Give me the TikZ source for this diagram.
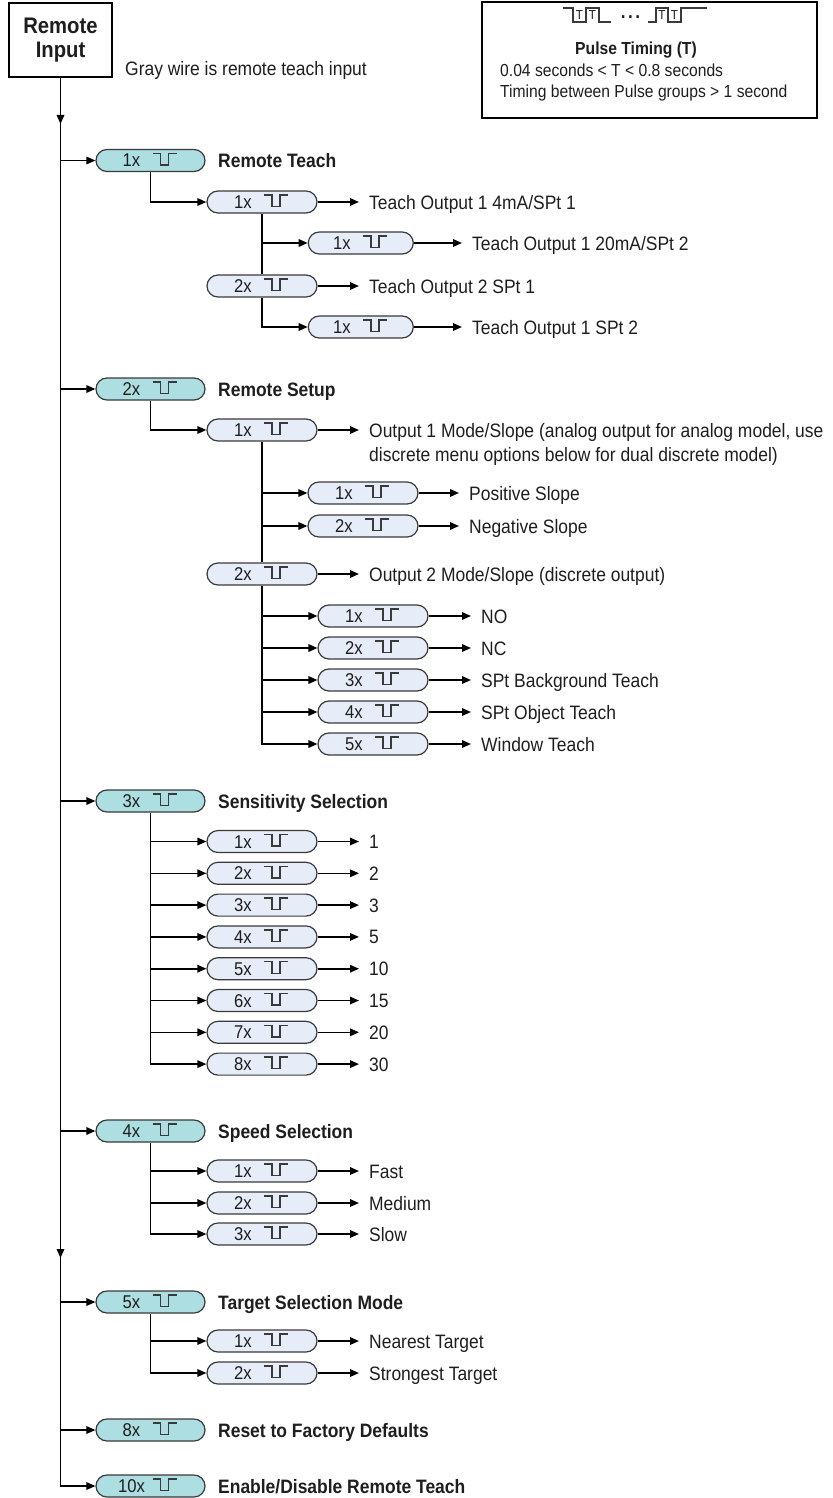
\documentclass[tikz,border=0pt]{standalone}
\usepackage{fontspec}
\setmainfont{Liberation Sans}[FakeStretch=0.9]
\usetikzlibrary{arrows.meta,shapes.misc,calc}
\definecolor{lone}{HTML}{ADDEE2}
\definecolor{ltwo}{HTML}{E6ECF8}
\definecolor{pbord}{HTML}{3A3A3A}
\definecolor{ink}{HTML}{1E1E1E}
\tikzset{
 pillbase/.style={rounded rectangle, draw=pbord, line width=1.2pt, minimum height=22pt, inner sep=0pt},
 lvone/.style={pillbase, fill=lone},
 lvtwo/.style={pillbase, fill=ltwo},
 pilltxt/.style={font=\fontsize{18.5}{22}\selectfont, text=ink, inner sep=0pt, text height=13pt, text depth=0pt},
 pulse/.style={line width=1.4pt, draw=pbord},
 conn/.style={line width=1.6pt, draw=black},
 arr/.style={conn, -{Triangle[length=9pt,width=7.5pt]}},
 oarr/.style={arr, shorten >=10pt},
 txt/.style={font=\fontsize{19.4}{24}\selectfont, text=ink, anchor=west, inner sep=0pt, text height=14pt, text depth=0pt},
 btxt/.style={txt, font=\fontsize{19.4}{24}\selectfont\bfseries},
 boxtxt/.style={font=\fontsize{17.4}{20}\selectfont, text=ink, inner sep=0pt, text height=12.4pt, text depth=0pt},
 tsmall/.style={font=\fontsize{13}{13}\selectfont, text=ink, inner sep=0pt},
}
\newcommand{\pill}[6]{%
 \node[#5, minimum width=#4pt] (#1) at (#2,#3) {};
 \node[pilltxt] (#1x) at (#2-19,#3) {#6};
 \draw[pulse, shift={(#2,#3)}] (2,-7) -- (10,-7) -- (10,4.5) -- (18,4.5) -- (18,-7) -- (26,-7);
}
\begin{document}
\begin{tikzpicture}[x=1pt,y=-1pt]
\useasboundingbox (0,0) rectangle (832,1498);

% header
\node[draw, line width=2pt, minimum width=103pt, minimum height=74pt, inner sep=0pt, align=center, text=ink,
      font=\fontsize{22.5}{24}\selectfont\bfseries] (ri) at (60.5,40) {Remote\\Input};
\node[txt] (gw) at (125,69) {Gray wire is remote teach input};

\node[draw, line width=1.4pt, minimum width=335pt, minimum height=116pt, inner sep=0pt] (pt) at (649.5,60) {};
\draw[pulse] (563,8) -- (573,8) -- (573,22) -- (586,22) -- (586,8) -- (599,8) -- (599,22) -- (611,22);
\draw[pulse] (648,22) -- (656,22) -- (656,8) -- (668,8) -- (668,22) -- (681,22) -- (681,8) -- (707,8);
\node[tsmall] (ta) at (579.5,15) {T};
\node[tsmall] (tb) at (592.5,15) {T};
\node[tsmall] (tc) at (662,15) {T};
\node[tsmall] (td) at (674.5,15) {T};
\node[inner sep=0pt, text=ink, font=\fontsize{19}{20}\selectfont\bfseries] (dots) at (630.5,17) {.\kern2.5pt.\kern2.5pt.};
\node[boxtxt, font=\fontsize{17.4}{20}\selectfont\bfseries] (pth) at (636,48) {Pulse Timing (T)};
\node[boxtxt, anchor=west] (pl1) at (500,70) {0.04 seconds < T < 0.8 seconds};
\node[boxtxt, anchor=west] (pl2) at (500,91) {Timing between Pulse groups > 1 second};

% level 1
\pill{rt}{150.5}{160.5}{109}{lvone}{1x}
\pill{su}{150.5}{389}{109}{lvone}{2x}
\pill{se}{150.5}{801}{109}{lvone}{3x}
\pill{sp}{150.5}{1131}{109}{lvone}{4x}
\pill{ts}{150.5}{1302}{109}{lvone}{5x}
\pill{rf}{150.5}{1430}{109}{lvone}{8x}
\pill{en}{150.5}{1486}{109}{lvone}{10x}
\node[btxt] (rtl) at (218,160.5) {Remote Teach};
\node[btxt] (sul) at (218,389) {Remote Setup};
\node[btxt] (sel) at (218,801) {Sensitivity Selection};
\node[btxt] (spl) at (218,1131) {Speed Selection};
\node[btxt] (tsl) at (218,1302) {Target Selection Mode};
\node[btxt] (rfl) at (218,1430) {Reset to Factory Defaults};
\node[btxt] (enl) at (218,1486) {Enable/Disable Remote Teach};

% main line
\draw[arr] (ri.south) |- (en.west);
\draw[arr] (ri.south) -- (60.5,124);
\draw[arr] (60.5,1240) -- (60.5,1258);
\foreach \n in {rt,su,se,sp,ts,rf}{
  \draw[arr] (ri.south |- \n.west) -- (\n.west);
}

% Remote Teach
\pill{t1}{262}{202}{110}{lvtwo}{1x}
\pill{t11}{360.8}{243}{105}{lvtwo}{1x}
\pill{t2}{262}{286}{110}{lvtwo}{2x}
\pill{t21}{360.8}{327}{105}{lvtwo}{1x}
\node[txt] (t1t) at (369,202) {Teach Output 1 4mA/SPt 1};
\node[txt] (t11t) at (472,243) {Teach Output 1 20mA/SPt 2};
\node[txt] (t2t) at (369,286) {Teach Output 2 SPt 1};
\node[txt] (t21t) at (472,327) {Teach Output 1 SPt 2};
\draw[arr] (rt.south) |- (t1.west);
\draw[conn] (t1.south) -- (t2.north);
\draw[arr] (t1.south |- t11.west) -- (t11.west);
\draw[arr] (t2.south) |- (t21.west);
\foreach \n in {t1,t11,t2,t21}{\draw[oarr] (\n.east) -- (\n t.west);}

% Remote Setup
\pill{s1}{262}{430}{110}{lvtwo}{1x}
\pill{s11}{363}{493}{110}{lvtwo}{1x}
\pill{s12}{363}{526}{110}{lvtwo}{2x}
\pill{s2}{262}{574}{110}{lvtwo}{2x}
\pill{s21}{373}{616}{110}{lvtwo}{1x}
\pill{s22}{373}{648}{110}{lvtwo}{2x}
\pill{s23}{373}{680}{110}{lvtwo}{3x}
\pill{s24}{373}{712}{110}{lvtwo}{4x}
\pill{s25}{373}{744}{110}{lvtwo}{5x}
\node[txt] (s1t) at (369,430) {Output 1 Mode/Slope (analog output for analog model, use};
\node[txt] (s1u) at (369,454) {discrete menu options below for dual discrete model)};
\node[txt] (s11t) at (469,493) {Positive Slope};
\node[txt] (s12t) at (469,526) {Negative Slope};
\node[txt] (s2t) at (369,574) {Output 2 Mode/Slope (discrete output)};
\node[txt] (s21t) at (481,616) {NO};
\node[txt] (s22t) at (481,648) {NC};
\node[txt] (s23t) at (481,680) {SPt Background Teach};
\node[txt] (s24t) at (481,712) {SPt Object Teach};
\node[txt] (s25t) at (481,744) {Window Teach};
\draw[arr] (su.south) |- (s1.west);
\draw[conn] (s1.south) -- (s2.north);
\foreach \n in {s11,s12}{\draw[arr] (s1.south |- \n.west) -- (\n.west);}
\draw[arr] (s2.south) |- (s25.west);
\foreach \n in {s21,s22,s23,s24}{\draw[arr] (s2.south |- \n.west) -- (\n.west);}
\foreach \n in {s1,s11,s12,s2,s21,s22,s23,s24,s25}{\draw[oarr] (\n.east) -- (\n t.west);}

% Sensitivity
\foreach \i/\v [count=\k from 0] in {1/1,2/2,3/3,4/5,5/10,6/15,7/20,8/30}{
  \pill{e\i}{262}{841.5+31.8*\k}{110}{lvtwo}{\i x}
  \node[txt] (e\i t) at (369,841.5+31.8*\k) {\v};
  \draw[oarr] (e\i.east) -- (e\i t.west);
}
\draw[arr] (se.south) |- (e8.west);
\foreach \i in {1,...,7}{\draw[arr] (se.south |- e\i.west) -- (e\i.west);}

% Speed
\pill{p1}{262}{1171}{110}{lvtwo}{1x}
\pill{p2}{262}{1203}{110}{lvtwo}{2x}
\pill{p3}{262}{1234}{110}{lvtwo}{3x}
\node[txt] (p1t) at (369,1171) {Fast};
\node[txt] (p2t) at (369,1203) {Medium};
\node[txt] (p3t) at (369,1234) {Slow};
\draw[arr] (sp.south) |- (p3.west);
\foreach \n in {p1,p2}{\draw[arr] (sp.south |- \n.west) -- (\n.west);}
\foreach \n in {p1,p2,p3}{\draw[oarr] (\n.east) -- (\n t.west);}

% Target
\pill{g1}{262}{1341}{110}{lvtwo}{1x}
\pill{g2}{262}{1373}{110}{lvtwo}{2x}
\node[txt] (g1t) at (369,1341) {Nearest Target};
\node[txt] (g2t) at (369,1373) {Strongest Target};
\draw[arr] (ts.south) |- (g2.west);
\draw[arr] (ts.south |- g1.west) -- (g1.west);
\foreach \n in {g1,g2}{\draw[oarr] (\n.east) -- (\n t.west);}
\end{tikzpicture}
\end{document}
